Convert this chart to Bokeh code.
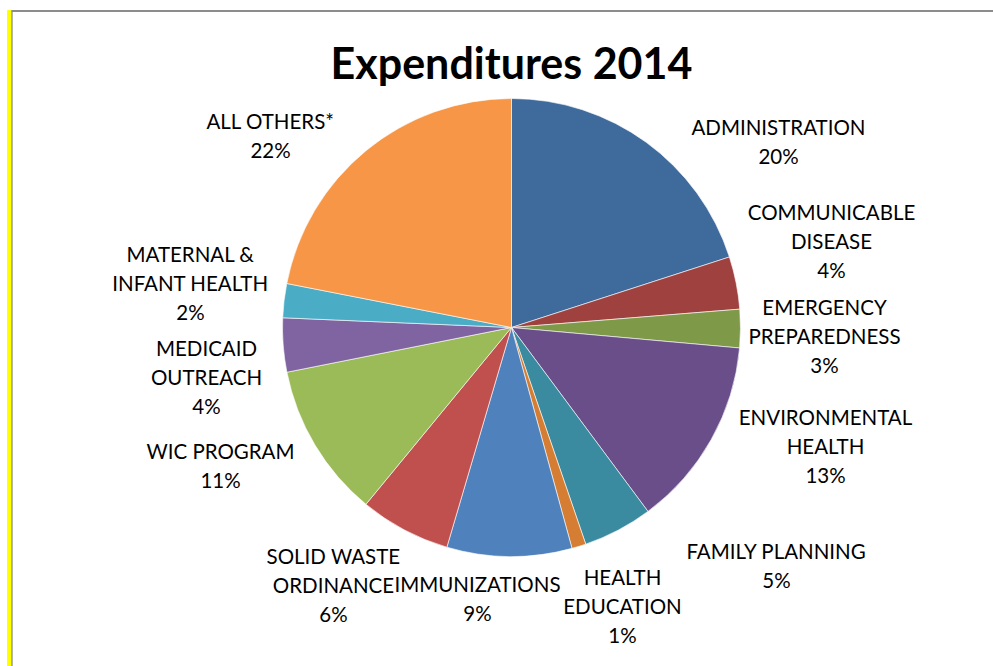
import math
from bokeh.plotting import figure
from bokeh.models import Range1d, ColumnDataSource
from bokeh.core.properties import value
from bokeh.embed import file_html
from bokeh.resources import INLINE

# ---- data ----
categories = ["ADMINISTRATION", "COMMUNICABLE DISEASE", "EMERGENCY PREPAREDNESS",
              "ENVIRONMENTAL HEALTH", "FAMILY PLANNING", "HEALTH EDUCATION",
              "IMMUNIZATIONS", "SOLID WASTE ORDINANCE", "WIC PROGRAM",
              "MEDICAID OUTREACH", "MATERNAL & INFANT HEALTH", "ALL OTHERS*"]
label_lines = [["ADMINISTRATION"], ["COMMUNICABLE", "DISEASE"], ["EMERGENCY", "PREPAREDNESS"],
               ["ENVIRONMENTAL", "HEALTH"], ["FAMILY PLANNING"], ["HEALTH", "EDUCATION"],
               ["IMMUNIZATIONS"], ["SOLID WASTE", "ORDINANCE"], ["WIC PROGRAM"],
               ["MEDICAID", "OUTREACH"], ["MATERNAL &", "INFANT HEALTH"], ["ALL OTHERS*"]]
shares = [20.0, 3.7, 2.7, 13.4, 4.9, 1.0, 8.8, 6.4, 10.9, 3.8, 2.4, 21.9]
title_text = "Expenditures 2014"

# ---- style / layout ----
colors = ["#3F6A9C", "#9E413F", "#7E9A48", "#6A4E8A", "#3A8BA0", "#D57D33",
          "#4F81BD", "#C0504D", "#9BBB59", "#8064A2", "#4BACC6", "#F79646"]
# label anchor (x, screen y of first line) for each category
label_pos = [(778, 126), (831, 211), (824, 306), (825, 416), (776, 550), (622, 576),
             (477, 583), (333, 555), (220, 450), (206, 347), (190, 253), (270, 120)]
LINE_H = 29
H = 666
cx, cy, R = 511, 327, 229
FONT = "Lato"

W, HT = 993, 666
p = figure(width=W, height=HT, x_range=Range1d(0, W), y_range=Range1d(H - HT, H),
           output_backend="svg", toolbar_location=None, min_border=0)
p.axis.visible = False
p.grid.visible = False
p.outline_line_color = None
p.background_fill_color = "white"

# frame decorations
p.quad(left=[7], right=[10.6], bottom=[0], top=[H - 10], color="#FFFF00")
p.segment(x0=[11.5], y0=[H - 10], x1=[11.5], y1=[0], line_color="#7F7F7F", line_width=1.2)
p.segment(x0=[11], y0=[H - 10.5], x1=[W], y1=[H - 10.5], line_color="#8C8C8C", line_width=2)

# pie
total = sum(shares)
cum = 0.0
starts, ends = [], []
for s in shares:
    a0 = math.pi / 2 - 2 * math.pi * cum / total
    cum += s
    a1 = math.pi / 2 - 2 * math.pi * cum / total
    starts.append(a1)
    ends.append(a0)
src = ColumnDataSource(dict(start=starts, end=ends, color=colors, cat=categories))
p.wedge(x=cx, y=H - cy, radius=R, radius_units="screen", start_angle="start", end_angle="end",
        fill_color="color", line_color="white", line_width=0.6, source=src)

# labels
xs, ys, ts = [], [], []
for lines, s, (lx, ly) in zip(label_lines, shares, label_pos):
    allines = lines + [f"{s / total:.0%}"]
    for i, t in enumerate(allines):
        xs.append(lx)
        ys.append(H - (ly + i * LINE_H))
        ts.append(t)
p.text(x=xs, y=ys, text=ts, text_align="center", text_baseline="middle",
       text_font=value(FONT), text_font_size="20.5px", text_color="#000000")

# title
p.text(x=[511], y=[H - 62], text=[title_text], text_align="center", text_baseline="middle",
       text_font=value(FONT), text_font_style="bold", text_font_size="43px", text_color="#000000")

open("out.html", "w").write(file_html(p, INLINE))
